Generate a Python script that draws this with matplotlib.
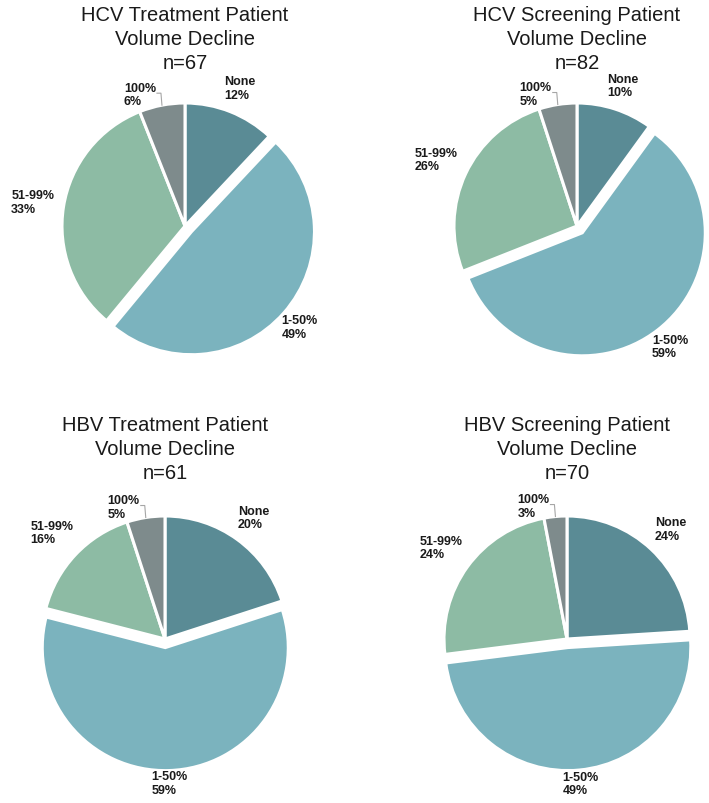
import numpy as np
import matplotlib.pyplot as plt

# Data
categories = ['None', '1-50%', '51-99%', '100%']
titles = ['HCV Treatment Patient\nVolume Decline',
          'HCV Screening Patient\nVolume Decline',
          'HBV Treatment Patient\nVolume Decline',
          'HBV Screening Patient\nVolume Decline']
n_values = [67, 82, 61, 70]
hcv_treatment = [12, 49, 33, 6]
hcv_screening = [10, 59, 26, 5]
hbv_treatment = [20, 59, 16, 5]
hbv_screening = [24, 49, 24, 3]
series = [hcv_treatment, hcv_screening, hbv_treatment, hbv_screening]

# Style
colors = ['#5a8b95', '#7bb3be', '#8dbba4', '#7e8b8c']
explode = [0, 0.07, 0, 0]
plt.rcParams['font.family'] = ['Liberation Sans', 'DejaVu Sans']

W, H = 709, 804
fig = plt.figure(figsize=(W / 100, H / 100), dpi=100)
renderer = fig.canvas.get_renderer()

R = 123      # pie radius in pixels
L = 1.6      # half-width of each pie axes in data units
centers = [(185, 227), (577, 227), (165, 640), (567, 640)]
title_tops = [6, 6, 416, 416]
gap = 8 / R

for k, values in enumerate(series):
    cx, cy = centers[k]
    size = 2 * L * R
    ax = fig.add_axes([(cx - size / 2) / W, 1 - (cy + size / 2) / H, size / W, size / H])
    wedges, _ = ax.pie(values, colors=colors, startangle=90, counterclock=False,
                       explode=explode, radius=1,
                       wedgeprops=dict(edgecolor='white', linewidth=2.2))
    ax.set_xlim(-L, L)
    ax.set_ylim(-L, L)
    ax.set_aspect('equal')
    ax.axis('off')

    # title
    fig.text(cx / W, 1 - title_tops[k] / H, f"{titles[k]}\nn={n_values[k]}",
             ha='center', va='top', fontsize=14.5, color='#1a1a1a', linespacing=1.32)

    # data labels
    for i, w in enumerate(wedges):
        mid = np.deg2rad((w.theta1 + w.theta2) / 2)
        c, s = np.cos(mid), np.sin(mid)
        label = f"{categories[i]}\n{values[i]}%"
        if i == 3:
            # small slice: label to the upper left with a leader line
            xw, yw = c, s
            ax.plot([xw - 5 / R, xw - 1 / R, xw], [yw + 12 / R, yw + 12 / R, yw],
                    color='#a6a6a6', lw=0.8, clip_on=False)
            ax.text(xw - 6 / R, yw - 2 / R, label, ha='right', va='bottom',
                    multialignment='left', fontsize=9, fontweight='bold',
                    color='#1a1a1a', linespacing=1.15, clip_on=False)
            continue
        t = ax.text(0, 0, label, ha='center', va='center', multialignment='left',
                    fontsize=9, fontweight='bold', color='#1a1a1a',
                    linespacing=1.15, clip_on=False)
        bb = t.get_window_extent(renderer)
        hw = bb.width / 2 / R
        hh = bb.height / 2 / R
        d = 1 + gap + abs(c) * hw + abs(s) * hh
        t.set_position((d * c, d * s))

fig.savefig('out.png', dpi=100, facecolor='white')
